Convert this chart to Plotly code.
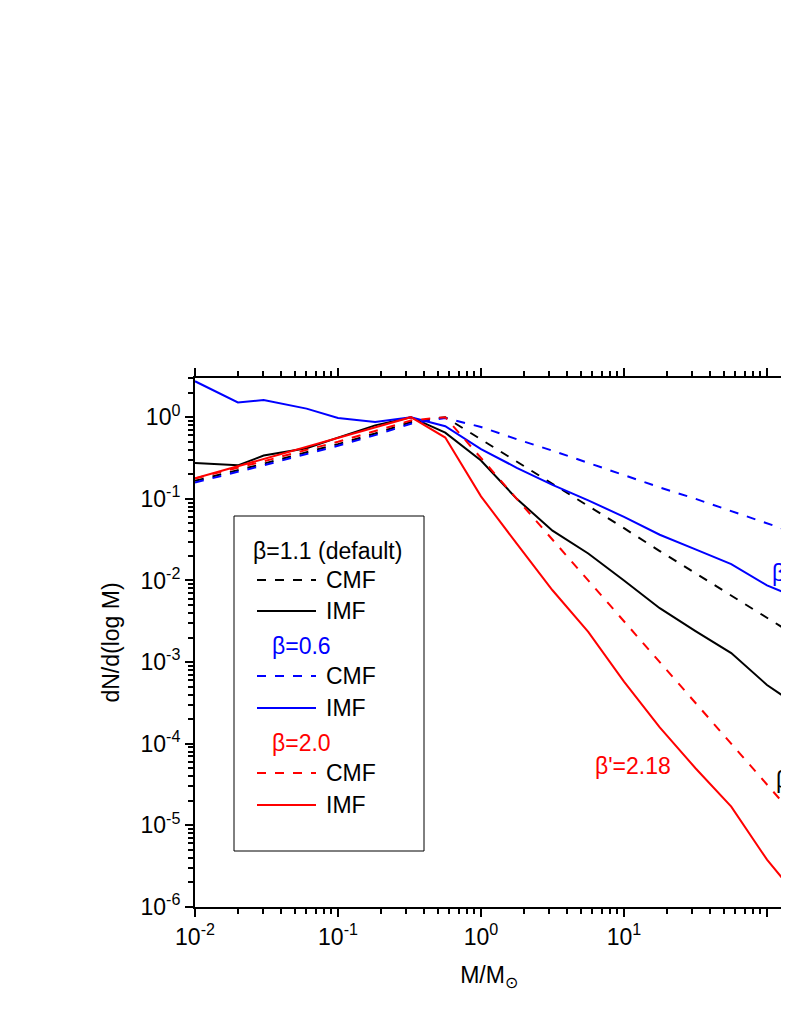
import plotly.graph_objects as go

# log10(M/Msun) sample positions
log_mass = [-2, -1.7, -1.52, -1.22, -1, -0.74, -0.49, -0.25, 0, 0.25, 0.5, 0.75, 1, 1.25, 1.5, 1.75, 2, 2.25]
# log10(dN/dlogM)
black_imf = [-0.56, -0.59, -0.47, -0.38, -0.25, -0.10, 0, -0.19, -0.53, -1.0, -1.39, -1.67, -2.0, -2.34, -2.62, -2.89, -3.28, -3.58]
black_cmf = [-0.78, -0.65, -0.57, -0.43, -0.33, -0.20, -0.06, 0, -0.27, -0.545, -0.82, -1.09, -1.36, -1.64, -1.91, -2.18, -2.45, -2.73]
blue_imf = [0.44, 0.18, 0.21, 0.105, -0.01, -0.06, 0, -0.11, -0.39, -0.62, -0.83, -1.02, -1.22, -1.44, -1.62, -1.80, -2.06, -2.24]
blue_cmf = [-0.80, -0.67, -0.59, -0.45, -0.35, -0.22, -0.08, -0.01, -0.12, -0.27, -0.41, -0.56, -0.71, -0.86, -1.0, -1.15, -1.30, -1.45]
red_imf = [-0.75, -0.60, -0.51, -0.36, -0.25, -0.12, 0, -0.25, -0.97, -1.55, -2.12, -2.63, -3.24, -3.80, -4.30, -4.77, -5.42, -5.95]
red_cmf = [-0.75, -0.62, -0.54, -0.40, -0.30, -0.17, -0.04, 0, -0.5, -1.0, -1.5, -2.0, -2.5, -3.0, -3.5, -4.0, -4.5, -5.0]

x_tick_exps = [-2, -1, 0, 1, 2]
y_tick_exps = [-6, -5, -4, -3, -2, -1, 0]

series = [
    (black_cmf, "black", "dash"), (black_imf, "black", "solid"),
    (blue_cmf, "#0000FF", "dash"), (blue_imf, "#0000FF", "solid"),
    (red_cmf, "#FF0000", "dash"), (red_imf, "#FF0000", "solid"),
]

FONT = "Liberation Sans, Arial, sans-serif"
FS = 23
fig = go.Figure()
xs = [10 ** v for v in log_mass]
for ys, col, dash in series:
    fig.add_trace(go.Scatter(x=xs, y=[10 ** v for v in ys], mode="lines",
                             line=dict(color=col, width=2, dash=dash), showlegend=False))

W, H = 789, 1021
L, T, B = 187, 370, 899
PW = W - 14 - L  # leave room for browser scrollbar
def px(x): return (x - L) / PW
def py(y): return (B - y) / (B - T)

shapes = [dict(type="rect", xref="paper", yref="paper", x0=px(226), x1=px(416), y0=py(843), y1=py(508),
               line=dict(color="black", width=1), fillcolor="white", layer="above")]
anns = []
rows = [("β=1.1 (default)", "black", None, 543, 243),
        ("CMF", "black", "dash", 572, None), ("IMF", "black", "solid", 603, None),
        ("β=0.6", "#0000FF", None, 638, 262),
        ("CMF", "#0000FF", "dash", 668, None), ("IMF", "#0000FF", "solid", 700, None),
        ("β=2.0", "#FF0000", None, 735, 262),
        ("CMF", "#FF0000", "dash", 765, None), ("IMF", "#FF0000", "solid", 797, None)]
for text, col, dash, y, x in rows:
    if dash is None:
        anns.append(dict(text=text, x=px(x), y=py(y), xref="paper", yref="paper", showarrow=False,
                         xanchor="left", yanchor="middle", font=dict(color=col, size=FS, family=FONT)))
    else:
        shapes.append(dict(type="line", xref="paper", yref="paper", x0=px(249), x1=px(308), y0=py(y), y1=py(y),
                           line=dict(color=col, width=2, dash=dash), layer="above"))
        anns.append(dict(text=text, x=px(316), y=py(y), xref="paper", yref="paper", showarrow=False,
                         xanchor="left", yanchor="middle", font=dict(color="black", size=FS, family=FONT)))

for text, col, lx, ly in [("β'=2.18", "#FF0000", 0.78, -4.27), ("β'=", "black", 2.05, -4.45),
                          ("β'=", "#0000FF", 2.02, -1.91)]:
    anns.append(dict(text=text, x=lx, y=ly, xref="x", yref="y", showarrow=False, xanchor="left",
                     yanchor="middle", font=dict(color=col, size=FS, family=FONT)))

def pow_label(e):
    return "10<sup>%d</sup>" % e

axis_common = dict(type="log", showgrid=False, zeroline=False, showline=True, linecolor="black", linewidth=2,
                   ticks="outside", ticklen=8, tickwidth=2, tickcolor="black",
                   tickfont=dict(size=FS, family=FONT, color="black"),
                   minor=dict(ticks="outside", ticklen=5, tickwidth=1.5, tickcolor="black", dtick="D1"))
fig.update_layout(
    width=W - 14, height=H - 4, plot_bgcolor="white", paper_bgcolor="white",
    margin=dict(l=L, r=0, t=T, b=H - 4 - B),
    xaxis=dict(axis_common, range=[-2, -2 + PW / 143], mirror="allticks",
               tickvals=[10 ** e for e in x_tick_exps], ticktext=[pow_label(e) for e in x_tick_exps],
               title=dict(text="M/M<sub>⊙</sub>", font=dict(size=FS, family=FONT, color="black"), standoff=18)),
    yaxis=dict(axis_common, range=[-6, 0.48],
               tickvals=[10 ** e for e in y_tick_exps], ticktext=[pow_label(e) for e in y_tick_exps],
               title=dict(text="dN/d(log M)", font=dict(size=FS, family=FONT, color="black"), standoff=14)),
    shapes=shapes, annotations=anns, font=dict(family=FONT, color="black"),
)
fig.write_html("out.html")
